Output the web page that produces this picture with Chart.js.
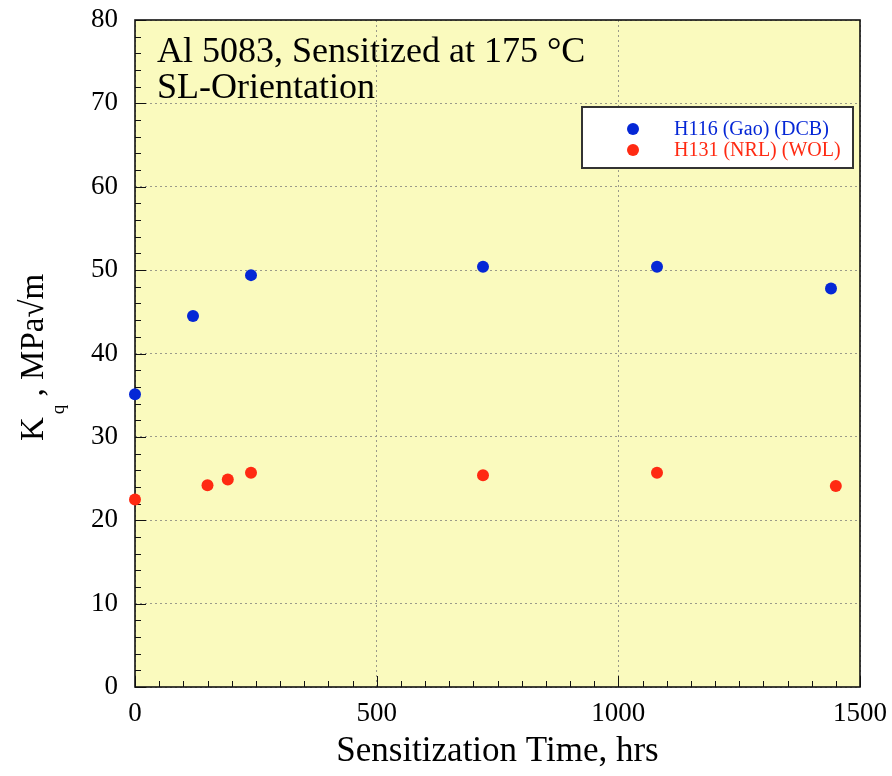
<!DOCTYPE html>
<html>
<head>
<meta charset="utf-8">
<script src="https://cdn.jsdelivr.net/npm/chart.js@4/dist/chart.umd.min.js"></script>
<style>
  html, body { margin: 0; padding: 0; background: #fff; }
  canvas { display: block; }
</style>
</head>
<body>
<canvas id="kqChart" width="892" height="776"></canvas>
<script>
// --- data ---
const h116Hours = [0, 120, 240, 720, 1080, 1440];
const h116Kq = [35.1, 44.5, 49.4, 50.4, 50.4, 47.8];
const h131Hours = [0, 150, 192, 240, 720, 1080, 1450];
const h131Kq = [22.5, 24.2, 24.9, 25.7, 25.4, 25.7, 24.1];
const seriesLabels = ['H116 (Gao) (DCB)', 'H131 (NRL) (WOL)'];
const seriesColors = ['#0527d6', '#ff2a12'];
const xTicks = [0, 500, 1000, 1500];
const yTicks = [0, 10, 20, 30, 40, 50, 60, 70, 80];
const titleLines = ['Al 5083, Sensitized at 175 °C', 'SL-Orientation'];

const serif = "'Liberation Serif', 'DejaVu Serif', serif";

function toPoints(xs, ys) {
  return xs.map((x, i) => ({ x: x, y: ys[i] }));
}

// background, frame, inward ticks, title text, y label, legend
const decor = {
  id: 'decor',
  beforeDraw(chart) {
    const { ctx, chartArea: a } = chart;
    ctx.save();
    ctx.fillStyle = '#fafabe';
    ctx.fillRect(a.left, a.top, a.right - a.left, a.bottom - a.top);
    ctx.restore();
  },
  beforeDatasetsDraw(chart) {
    const { ctx, chartArea: a, scales } = chart;
    ctx.save();
    ctx.strokeStyle = '#111';
    ctx.lineWidth = 1;
    // minor / major ticks on left axis
    for (let v = 0; v <= 80; v += 2) {
      const y = Math.round(scales.y.getPixelForValue(v)) + 0.5;
      const len = v % 10 === 0 ? 11 : 6;
      ctx.beginPath();
      ctx.moveTo(a.left, y);
      ctx.lineTo(a.left + len, y);
      ctx.stroke();
    }
    // minor / major ticks on bottom axis
    for (let v = 0; v <= 1500; v += 50) {
      const x = Math.round(scales.x.getPixelForValue(v)) + 0.5;
      const len = v % 500 === 0 ? 11 : 6;
      ctx.beginPath();
      ctx.moveTo(x, a.bottom);
      ctx.lineTo(x, a.bottom - len);
      ctx.stroke();
    }
    // frame
    ctx.lineWidth = 1.6;
    ctx.strokeStyle = '#111';
    ctx.strokeRect(a.left, a.top, a.right - a.left, a.bottom - a.top);

    // title text inside plot
    ctx.fillStyle = '#000';
    ctx.font = '36px ' + serif;
    ctx.textBaseline = 'alphabetic';
    ctx.textAlign = 'left';
    ctx.fillText(titleLines[0], a.left + 22, 62);
    ctx.fillText(titleLines[1], a.left + 22, 98);

    // y axis label: K_q , MPa√m (rotated)
    ctx.translate(43, 441);
    ctx.rotate(-Math.PI / 2);
    ctx.font = '33px ' + serif;
    let cx = 0;
    ctx.fillText('K', cx, 0);
    cx += ctx.measureText('K').width;
    ctx.font = '19px ' + serif;
    ctx.fillText('q', cx + 3, 21);
    cx += ctx.measureText('q').width + 3;
    ctx.font = '33px ' + serif;
    ctx.fillText(' , MPa\u221Am', cx, 0);
    ctx.restore();
  },
  afterDraw(chart) {
    const { ctx } = chart;
    const bx = 582, by = 107, bw = 271, bh = 61;
    ctx.save();
    ctx.fillStyle = '#fff';
    ctx.fillRect(bx, by, bw, bh);
    ctx.lineWidth = 2;
    ctx.strokeStyle = '#333';
    ctx.strokeRect(bx, by, bw, bh);
    ctx.font = '20px ' + serif;
    ctx.textBaseline = 'middle';
    chart.data.datasets.forEach((ds, i) => {
      const y = by + 22 + i * 21;
      ctx.fillStyle = ds.backgroundColor;
      ctx.beginPath();
      ctx.arc(bx + 51, y, 6, 0, Math.PI * 2);
      ctx.fill();
      ctx.fillText(ds.label, bx + 92, y + 1);
    });
    ctx.restore();
  }
};

const ctx = document.getElementById('kqChart').getContext('2d');
new Chart(ctx, {
  type: 'scatter',
  data: {
    datasets: [
      {
        label: seriesLabels[0],
        data: toPoints(h116Hours, h116Kq),
        backgroundColor: seriesColors[0],
        borderColor: seriesColors[0],
        pointRadius: 6,
        pointBorderWidth: 0,
        clip: false
      },
      {
        label: seriesLabels[1],
        data: toPoints(h131Hours, h131Kq),
        backgroundColor: seriesColors[1],
        borderColor: seriesColors[1],
        pointRadius: 6,
        pointBorderWidth: 0,
        clip: false
      }
    ]
  },
  options: {
    responsive: false,
    animation: false,
    events: [],
    layout: {
      padding: { top: 20, right: 32, left: 0, bottom: 0 }
    },
    plugins: {
      legend: { display: false },
      tooltip: { enabled: false }
    },
    scales: {
      x: {
        type: 'linear',
        min: 0,
        max: 1500,
        afterFit: function(scale) {
          scale.height = 89;
          scale.paddingLeft = 0;
          scale.paddingRight = 0;
        },
        afterBuildTicks: function(scale) {
          scale.ticks = xTicks.map(v => ({ value: v }));
        },
        ticks: {
          color: '#000',
          font: { family: serif, size: 27 },
          padding: 11,
          maxRotation: 0,
          callback: v => String(v)
        },
        grid: {
          color: '#9a9a8a',
          lineWidth: 1,
          drawTicks: false
        },
        border: { display: false, dash: [2, 3] },
        title: {
          display: true,
          text: 'Sensitization Time, hrs',
          color: '#000',
          font: { family: serif, size: 35 },
          padding: { top: 0, bottom: 3 }
        }
      },
      y: {
        type: 'linear',
        min: 0,
        max: 80,
        afterFit: function(scale) {
          scale.width = 135;
          scale.paddingTop = 0;
          scale.paddingBottom = 0;
        },
        afterBuildTicks: function(scale) {
          scale.ticks = yTicks.map(v => ({ value: v }));
        },
        ticks: {
          color: '#000',
          font: { family: serif, size: 27 },
          padding: 17,
          callback: v => String(v)
        },
        grid: {
          color: '#9a9a8a',
          lineWidth: 1,
          drawTicks: false
        },
        border: { display: false, dash: [2, 3] }
      }
    }
  },
  plugins: [decor]
});
</script>
</body>
</html>
